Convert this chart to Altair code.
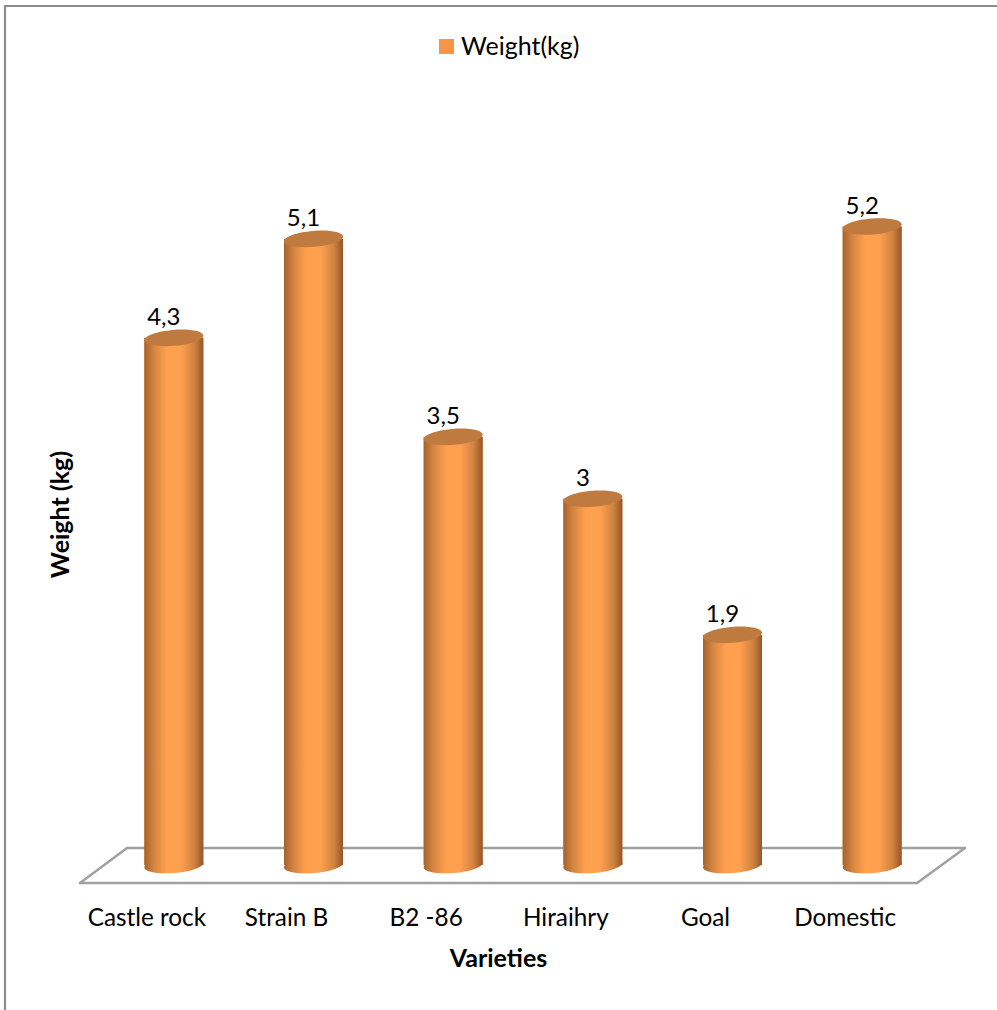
import altair as alt
import pandas as pd

varieties = ["Castle rock", "Strain B", "B2 -86", "Hiraihry", "Goal", "Domestic"]
weights = [4.3, 5.1, 3.5, 3.0, 1.9, 5.2]
series_name = "Weight(kg)"

FONT = "Lato"
LEFT, TOP, RIGHT, BOTTOM = 104, 100, 55, 140
PLOT_W, PLOT_H = 838, 770
PX_PER_KG = 123.75
BAR_W = 59
# The cylinders stand slightly above the zero line of the scale
FOOT_KG = 0.04

data = pd.DataFrame({"variety": varieties, "weight": weights, "series": series_name})

x = alt.X(
    "variety:N",
    sort=varieties,
    scale=alt.Scale(domain=varieties, paddingInner=0, paddingOuter=0),
    axis=alt.Axis(
        title="Varieties", titleFont=FONT, titleFontSize=25, titleFontWeight="bold",
        titleColor="black", titleX=394, titleY=76,
        labelFont=FONT, labelFontSize=24.3, labelColor="black", labelAngle=0,
        labelPadding=36, labelOffset=-27, labelOverlap=False, labelFlush=False,
        domain=False, ticks=False, grid=False,
    ),
)
y = alt.Y(
    "weight:Q",
    scale=alt.Scale(domain=[0, PLOT_H / PX_PER_KG], nice=False),
    axis=alt.Axis(
        title="Weight (kg)", titleFont=FONT, titleFontSize=25, titleFontWeight="bold",
        titleColor="black", titleX=-31, titleY=414,
        labels=False, domain=False, ticks=False, grid=False,
    ),
)
y_foot = alt.Y2(datum=FOOT_KG)

body_fill = alt.LinearGradient(
    gradient="linear", x1=0, x2=1, y1=0, y2=0,
    stops=[
        alt.GradientStop(offset=0, color="#A5622C"),
        alt.GradientStop(offset=0.15, color="#D18340"),
        alt.GradientStop(offset=0.38, color="#FFA04E"),
        alt.GradientStop(offset=0.62, color="#FFA04E"),
        alt.GradientStop(offset=0.85, color="#CF8240"),
        alt.GradientStop(offset=1, color="#94562A"),
    ],
)

# Tilted ellipse in symbol units, scaled by sqrt(size) / 2
ELLIPSE = "M-1,0.08 A1.003,0.27 -4.6 1 1 1,-0.08 A1.003,0.27 -4.6 1 1 -1,0.08 Z"
SYMBOL_SIZE = BAR_W ** 2


def segment(x1, y1, x2, y2, color, width):
    return alt.Chart().mark_rule(color=color, strokeWidth=width, strokeCap="round").encode(
        x=alt.value(x1 - LEFT), x2=alt.value(x2 - LEFT),
        y=alt.value(y1 - TOP), y2=alt.value(y2 - TOP),
    )


frame = [
    segment(5, 6, 997, 6, "#8C8C8C", 2.2),
    segment(5, 6, 5, 1010, "#8C8C8C", 2.2),
]
floor = [
    segment(80, 883, 127, 848, "#A0A0A0", 2.4),
    segment(127, 848, 965, 848, "#A0A0A0", 2.4),
    segment(965, 848, 917, 883, "#A0A0A0", 2.4),
    segment(917, 883, 80, 883, "#A0A0A0", 2.4),
]

base = alt.Chart(data)

legend_bars = base.mark_bar(size=BAR_W).encode(
    x=x, y=y, y2=y_foot,
    color=alt.Color(
        "series:N",
        scale=alt.Scale(domain=[series_name], range=["#F79646"]),
        legend=alt.Legend(
            title=None, orient="none", legendX=434 - LEFT, legendY=34 - TOP,
            symbolType="square", symbolSize=225, symbolStrokeWidth=0,
            labelFont=FONT, labelFontSize=25, labelColor="black", labelOffset=2,
        ),
    ),
)

foot = base.mark_point(
    shape=ELLIPSE, size=SYMBOL_SIZE, filled=True, fill=body_fill, opacity=1, strokeWidth=0,
).encode(x=x, y=alt.datum(FOOT_KG))

body = base.mark_bar(size=BAR_W, fill=body_fill).encode(x=x, y=y, y2=y_foot)

cap = base.mark_point(
    shape=ELLIPSE, size=SYMBOL_SIZE, filled=True, fill="#BF7A3F", opacity=1, strokeWidth=0,
).encode(x=x, y=y)

value_labels = base.transform_calculate(
    shown="replace(format(datum.weight, '.1~f'), '.', ',')"
).mark_text(
    font=FONT, fontSize=24, color="black", baseline="middle", align="center", dx=-10, dy=-20,
).encode(x=x, y=y, text="shown:N")

chart = alt.layer(
    *frame, *floor, legend_bars, foot, body, cap, value_labels,
).properties(
    width=PLOT_W,
    height=PLOT_H,
    padding={"left": LEFT, "top": TOP, "right": RIGHT, "bottom": BOTTOM},
    autosize=alt.AutoSizeParams(type="none"),
    background="white",
).configure_view(stroke=None)

chart.save("out.html", embed_options={"renderer": "svg", "actions": False})
